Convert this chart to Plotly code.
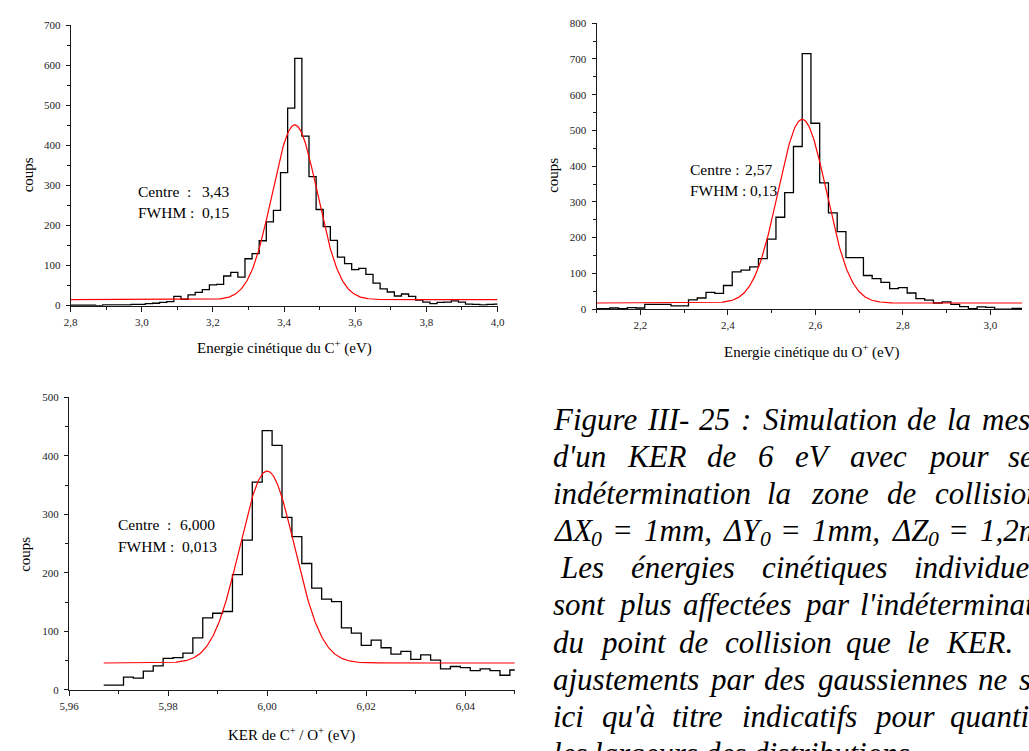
import re
import numpy as np
import plotly.graph_objects as go

W, H = 1029, 751
SERIF = "Liberation Serif, Times New Roman, serif"
INK = "#1a1a1a"

# ---------------------------------------------------------------- data
# C+ kinetic energy histogram (eV), 0.02 eV bins (left edge of first bin)
c_bin_start = 2.79
c_bin_width = 0.02
c_counts = [1, 1, 1, 1, 0, 2, 2, 2, 2, 3, 3, 5, 6, 8, 10, 23, 16, 27, 33, 40,
            52, 53, 74, 83, 71, 117, 130, 162, 209, 238, 332, 493, 617, 423,
            322, 240, 197, 163, 121, 105, 90, 93, 78, 56, 42, 34, 24, 29, 23,
            14, 9, 5, 8, 9, 12, 9, 4, 3, 2, 3, 4]
c_fit = dict(centre=3.43, fwhm=0.15, offset=15, height=436)
c_fit_range = (2.8, 4.0)

# O+ kinetic energy histogram (eV), 0.02 eV bins
o_bin_start = 2.09
o_bin_width = 0.02
o_counts = [1, 1, 3, 1, 4, 3, 13, 13, 13, 9, 9, 26, 31, 47, 44, 66, 104, 109,
            118, 141, 196, 257, 326, 455, 715, 520, 353, 269, 217, 144, 144,
            94, 85, 75, 57, 60, 45, 29, 25, 17, 20, 13, 7, 1, 6, 5, 0, 0, 2, 2]
o_fit = dict(centre=2.57, fwhm=0.13, offset=17, height=514)
o_fit_range = (2.1, 3.2)

# KER of C+ / O+ (eV), 0.002 eV bins
ker_bin_start = 5.967
ker_bin_width = 0.002
ker_counts = [8, 8, 22, 20, 32, 41, 54, 55, 63, 89, 123, 131, 134, 197, 256,
              355, 443, 418, 295, 262, 216, 174, 155, 151, 106, 97, 76, 85,
              72, 61, 66, 52, 60, 51, 36, 40, 38, 33, 36, 33, 25, 34]
ker_fit = dict(centre=6.000, fwhm=0.013, offset=46, height=328)
ker_fit_range = (5.967, 6.05)

fit_labels = [
    ("3,43", "0,15"),
    ("2,57", "0,13"),
    ("6,000", "0,013"),
]

caption_lines = [
    "Figure III- 25 : Simulation de la mesure",
    "d'un KER de 6 eV avec pour seule",
    "indétermination la zone de collision :",
    "ΔX<sub>0</sub> = 1mm, ΔY<sub>0</sub> = 1mm, ΔZ<sub>0</sub> = 1,2mm.",
    " Les énergies cinétiques individuelles",
    "sont plus affectées par l'indétermination",
    "du point de collision que le KER. Les",
    "ajustements par des gaussiennes ne sont",
    "ici qu'à titre indicatifs pour quantifier",
    "les largeurs des distributions.",
]


# ---------------------------------------------------------------- helpers
def px_x(px):
    return px / W


def px_y(py):
    return 1 - py / H


def step_xy(start, width, counts):
    edges = start + width * np.arange(len(counts) + 1)
    return edges, list(counts) + [counts[-1]]


def gauss(x, centre, fwhm, offset, height):
    sigma = fwhm / (2 * np.sqrt(2 * np.log(2)))
    return offset + height * np.exp(-0.5 * ((x - centre) / sigma) ** 2)


def x_axis(dom, rng, tick0, dtick, fmt, anchor):
    return dict(
        domain=[px_x(dom[0]), px_x(dom[1])], range=list(rng), anchor=anchor,
        showline=True, linecolor=INK, linewidth=1.2, mirror=False,
        ticks="outside", ticklen=5, tickwidth=1, tickcolor=INK,
        tick0=tick0, dtick=dtick, tickformat=fmt, ticklabelstandoff=1,
        minor=dict(ticks="outside", ticklen=3, tickwidth=1, tickcolor=INK,
                   tick0=tick0, dtick=dtick / 2, showgrid=False),
        showgrid=False, zeroline=False,
        tickfont=dict(family=SERIF, size=11, color=INK),
    )


def y_axis(dom, top, anchor):
    return dict(
        domain=[px_y(dom[1]), px_y(dom[0])], range=[0, top], anchor=anchor,
        showline=True, linecolor=INK, linewidth=1.2, mirror=False,
        ticks="outside", ticklen=4, tickwidth=1, tickcolor=INK,
        tick0=0, dtick=100, ticklabelstandoff=3,
        minor=dict(ticks="outside", ticklen=3, tickwidth=1, tickcolor=INK,
                   tick0=0, dtick=50, showgrid=False),
        showgrid=False, zeroline=False,
        tickfont=dict(family=SERIF, size=11, color=INK),
    )


def label(text, px, py, size=15.5, xanchor="left", yanchor="middle",
          angle=0, italic=False):
    return dict(text=text, x=px_x(px), y=px_y(py), xref="paper",
                yref="paper", xanchor=xanchor, yanchor=yanchor,
                showarrow=False, textangle=angle, borderpad=0, borderwidth=0,
                font=dict(family=SERIF, size=size, color="black",
                          style="italic" if italic else "normal"))


# Times italic advance widths (1/1000 em) for laying out the caption
TIMES_ITALIC = {
    " ": 250, "'": 214, ",": 250, "-": 333, ".": 250, ":": 333, "=": 675,
    "A": 611, "B": 611, "C": 667, "D": 722, "E": 611, "F": 611, "G": 722,
    "H": 722, "I": 333, "J": 444, "K": 667, "L": 556, "M": 833, "N": 667,
    "O": 722, "P": 611, "Q": 722, "R": 611, "S": 500, "T": 556, "U": 722,
    "V": 611, "W": 833, "X": 611, "Y": 556, "Z": 556,
    "a": 500, "b": 500, "c": 444, "d": 500, "e": 444, "f": 278, "g": 500,
    "h": 500, "i": 278, "j": 278, "k": 444, "l": 278, "m": 722, "n": 500,
    "o": 500, "p": 500, "q": 500, "r": 389, "s": 389, "t": 278, "u": 500,
    "v": 444, "w": 667, "x": 444, "y": 444, "z": 389,
    "é": 444, "à": 500, "Δ": 612,
}
SUB_SCALE = 0.7


def split_word(word):
    """Return [(text, is_subscript), ...] for a caption word."""
    parts = []
    for plain, sub in re.findall(r"([^<]+)|<sub>([^<]*)</sub>", word):
        if plain:
            parts.append((plain, False))
        if sub:
            parts.append((sub, True))
    return parts


def run_width(text, size):
    return sum(TIMES_ITALIC.get(ch, 500) for ch in text) * size / 1000.0


def word_width(word, size):
    return sum(run_width(t, size * (SUB_SCALE if s else 1.0))
               for t, s in split_word(word))


# ---------------------------------------------------------------- figure
fig = go.Figure()

panels = [
    (c_bin_start, c_bin_width, c_counts, c_fit, c_fit_range, "x", "y"),
    (o_bin_start, o_bin_width, o_counts, o_fit, o_fit_range, "x2", "y2"),
    (ker_bin_start, ker_bin_width, ker_counts, ker_fit, ker_fit_range,
     "x3", "y3"),
]
for start, width, counts, fit, frange, xa, ya in panels:
    ex, ey = step_xy(start, width, counts)
    fig.add_trace(go.Scatter(
        x=ex, y=ey, mode="lines", xaxis=xa, yaxis=ya,
        line=dict(color="black", width=1.3, shape="hv"),
        showlegend=False, hoverinfo="skip"))
    gx = np.linspace(frange[0], frange[1], 600)
    fig.add_trace(go.Scatter(
        x=gx, y=gauss(gx, **fit), mode="lines", xaxis=xa, yaxis=ya,
        line=dict(color="#ff0000", width=1.2),
        showlegend=False, hoverinfo="skip"))

o_right = 2.1 + (W - 596.5) / 444.7

fig.update_layout(
    width=W, height=H, autosize=False,
    margin=dict(l=0, r=0, t=0, b=0),
    paper_bgcolor="white", plot_bgcolor="white",
    separators=", ",
    xaxis=x_axis((61.7, 495.7), (2.8, 4.0), 2.8, 0.2, ".1f", "y"),
    yaxis=y_axis((19.5, 304.5), 700, "x"),
    xaxis2=x_axis((596.5, W), (2.1, o_right), 2.2, 0.2, ".1f", "y2"),
    yaxis2=y_axis((17.5, 308), 800, "x2"),
    xaxis3=x_axis((60, 513.3), (5.96, 6.05), 5.96, 0.02, ".2f", "y3"),
    yaxis3=y_axis((397.7, 695), 500, "x3"),
)

ann = []
# axis titles
ann.append(label("Energie cinétique du C<sup>+</sup> (eV)", 278.7, 347,
                 size=15, xanchor="center"))
ann.append(label("Energie cinétique du O<sup>+</sup> (eV)", 815, 351,
                 size=15, xanchor="center"))
ann.append(label("KER de C<sup>+</sup> / O<sup>+</sup> (eV)", 286.7, 740,
                 size=15, xanchor="center"))
for cx, cy in [(18.7, 171.7), (552, 171.7), (15, 557)]:
    ann.append(label("coups", cx, cy, size=15, xanchor="center",
                     angle=-90))

# fit results: (label x, label text, centre value x, FWHM value x, y1, y2)
fit_boxes = [
    (130, "Centre\u00a0\u00a0:", 195, 195, 188.3, 210),
    (691, "Centre :", 747, 752, 165.7, 187.7),
    (110, "Centre\u00a0\u00a0:", 173.3, 175, 526.7, 549),
]
for (cx, ctext, vx1, vx2, y1, y2), (centre, fwhm) in zip(fit_boxes,
                                                         fit_labels):
    ann.append(label(ctext, cx, y1))
    ann.append(label(centre, vx1, y1))
    ann.append(label("FWHM :", cx, y2))
    ann.append(label(fwhm, vx2, y2))

# justified caption, one annotation per word (subscripts drawn separately)
CAP_SIZE = 31
CAP_LEFT = 551.7
CAP_RIGHT = 1078
CAP_BASE0 = 430
CAP_LEAD = 37.7
SUB_DROP = 0.2 * CAP_SIZE
SUB_KERN = 1.5
for k, line in enumerate(caption_lines):
    base = CAP_BASE0 + k * CAP_LEAD
    left = CAP_LEFT
    if line.startswith(" "):
        left += run_width(" ", CAP_SIZE)
    words = line.split()
    widths = [word_width(w, CAP_SIZE) for w in words]
    last = k == len(caption_lines) - 1
    if last or len(words) == 1:
        gap = run_width(" ", CAP_SIZE)
    else:
        gap = (CAP_RIGHT - left - sum(widths)) / (len(words) - 1)
    x = left
    for w, wd in zip(words, widths):
        px = x
        for text, is_sub in split_word(w):
            size = CAP_SIZE * (SUB_SCALE if is_sub else 1.0)
            if is_sub:
                px += SUB_KERN
            if px < W - 1:
                top = base + (SUB_DROP if is_sub else 0) - 0.891 * size
                ann.append(label(text, px, top, size=size, yanchor="top",
                                 italic=True))
            px += run_width(text, size)
        x += wd + gap

fig.update_layout(annotations=ann)
fig.write_html("out.html")
